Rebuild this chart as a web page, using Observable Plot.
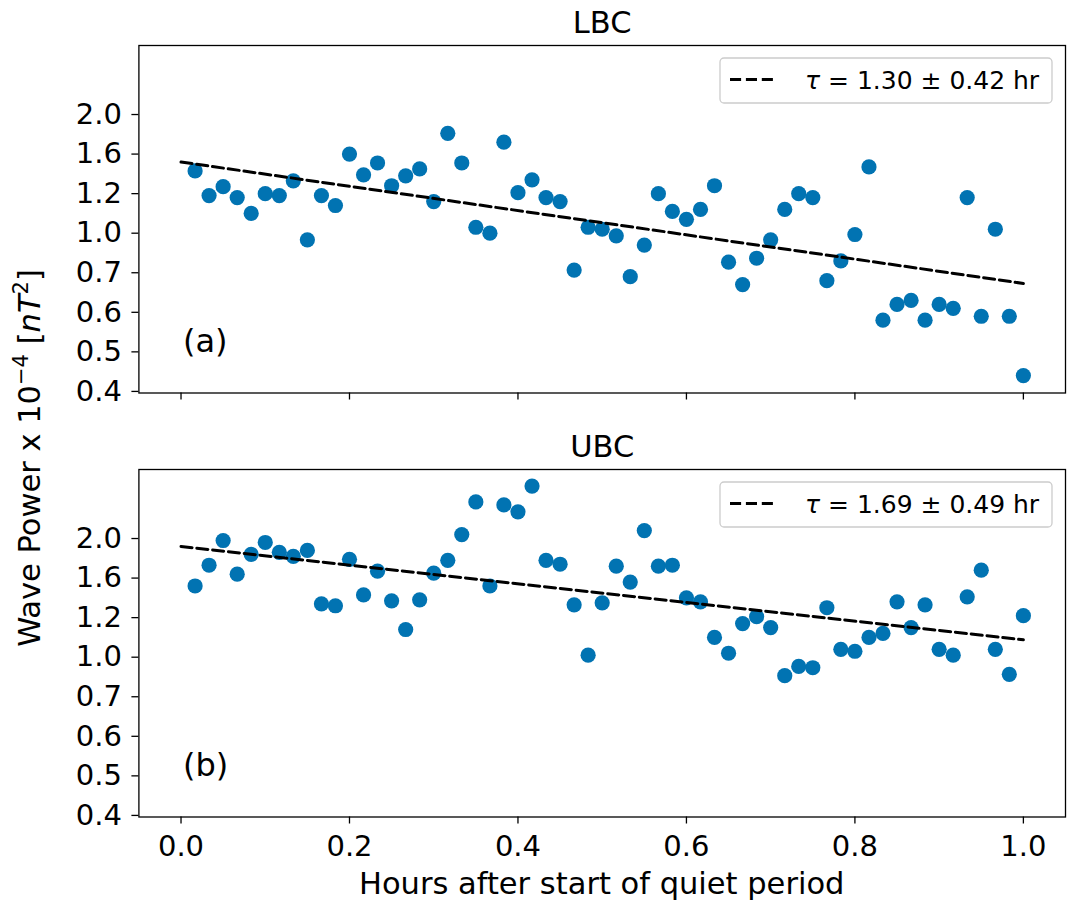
<!DOCTYPE html>
<html>
<head>
<meta charset="utf-8">
<script src="https://cdn.jsdelivr.net/npm/d3@7"></script>
<script src="https://cdn.jsdelivr.net/npm/@observablehq/plot@0.6"></script>
<style>
  body { margin: 0; background: #ffffff; }
  #fig { position: relative; width: 1072px; height: 903px; font-family: "DejaVu Sans"; background: #ffffff; }
</style>
</head>
<body>
<div id="fig"></div>
<script>
// ---------------- data ----------------
const hours = [0.0167, 0.0333, 0.05, 0.0667, 0.0833, 0.1, 0.1167, 0.1333, 0.15, 0.1667,
  0.1833, 0.2, 0.2167, 0.2333, 0.25, 0.2667, 0.2833, 0.3, 0.3167, 0.3333,
  0.35, 0.3667, 0.3833, 0.4, 0.4167, 0.4333, 0.45, 0.4667, 0.4833, 0.5,
  0.5167, 0.5333, 0.55, 0.5667, 0.5833, 0.6, 0.6167, 0.6333, 0.65, 0.6667,
  0.6833, 0.7, 0.7167, 0.7333, 0.75, 0.7667, 0.7833, 0.8, 0.8167, 0.8333,
  0.85, 0.8667, 0.8833, 0.9, 0.9167, 0.9333, 0.95, 0.9667, 0.9833, 1.0];

const lbcPower = [1.43, 1.19, 1.27, 1.18, 1.10, 1.20, 1.19, 1.33, 0.95, 1.19,
  1.14, 1.60, 1.39, 1.51, 1.28, 1.38, 1.45, 1.16, 1.81, 1.51,
  1.03, 1.00, 1.72, 1.21, 1.34, 1.18, 1.16, 0.72, 1.03, 1.02,
  0.98, 0.69, 0.91, 1.20, 1.11, 1.07, 1.12, 1.28, 0.78, 0.67,
  0.81, 0.95, 1.12, 1.20, 1.18, 0.68, 0.79, 0.99, 1.47, 0.58,
  0.62, 0.63, 0.58, 0.62, 0.61, 1.18, 0.59, 1.02, 0.59, 0.44];

const ubcPower = [1.52, 1.73, 1.98, 1.64, 1.84, 1.96, 1.86, 1.82, 1.88, 1.34,
  1.32, 1.79, 1.43, 1.67, 1.37, 1.14, 1.38, 1.65, 1.78, 2.04,
  2.37, 1.52, 2.34, 2.27, 2.53, 1.78, 1.74, 1.33, 1.01, 1.35,
  1.72, 1.56, 2.08, 1.72, 1.73, 1.40, 1.36, 1.10, 1.02, 1.17,
  1.21, 1.15, 0.86, 0.93, 0.92, 1.30, 1.04, 1.03, 1.10, 1.12,
  1.36, 1.15, 1.33, 1.04, 1.01, 1.41, 1.68, 1.04, 0.87, 1.22];

const fitHours = [0, 1];
const lbcFit = [1.52, 0.673];
const ubcFit = [1.92, 1.088];

const panelTitles = ["LBC", "UBC"];
const panelTags = ["(a)", "(b)"];
const tauValues = ["1.30", "1.69"];
const tauErrors = ["0.42", "0.49"];

const yTickValues = [0.4, 0.5, 0.6, 0.7, 1.0, 1.2, 1.6, 2.0];
const yTickLabels = ["0.4", "0.5", "0.6", "0.7", "1.0", "1.2", "1.6", "2.0"];
const xTickValues = [0, 0.2, 0.4, 0.6, 0.8, 1.0];
const xTickLabels = ["0.0", "0.2", "0.4", "0.6", "0.8", "1.0"];

const xLabel = "Hours after start of quiet period";

// ---------------- layout ----------------
const W = 1072;
const ML = 138.4, MR = 7;
const panelLayout = [
  {top: 0,   height: 420, mt: 45, mb: 27.5, showX: false},
  {top: 420, height: 483, mt: 49, mb: 86.5, showX: true}
];
const uMin = -0.04, uMax = 8.745;   // axis limits, in tick-interval units
const dotColor = "#0173b2";
const dash = "11.1,4.8";
const tickFont = 29, labelFont = 30.5;

const fig = document.getElementById("fig");
const powers = [lbcPower, ubcPower];
const fits = [lbcFit, ubcFit];

panelLayout.forEach((L, p) => {
  const fb = L.height - L.mb, ft = L.mt;
  const px = (fb - ft) / (uMax - uMin);
  const yRange = yTickValues.map((_, i) => fb - (i - uMin) * px);
  const pts = hours.map((h, i) => ({h, v: powers[p][i]}));
  const fit = fitHours.map((h, i) => ({h, v: fits[p][i]}));

  const svg = Plot.plot({
    width: W,
    height: L.height,
    marginLeft: ML,
    marginRight: MR,
    marginTop: L.mt,
    marginBottom: L.mb,
    x: {type: "linear", domain: [-0.05, 1.05]},
    y: {type: "linear", domain: yTickValues, range: yRange},
    style: {fontFamily: "DejaVu Sans", fontSize: tickFont + "px", color: "black", background: "transparent", overflow: "visible"},
    marks: [
      Plot.dot(pts, {x: "h", y: "v", r: 7.6, fill: dotColor, stroke: "none"}),
      Plot.line(fit, {x: "h", y: "v", stroke: "black", strokeWidth: 3, strokeDasharray: dash}),
      Plot.axisY({ticks: yTickValues, tickFormat: d => yTickLabels[yTickValues.indexOf(d)],
                  tickSize: 7, tickPadding: 10, label: null, strokeWidth: 1.3, fontSize: tickFont}),
      Plot.axisX({ticks: xTickValues,
                  tickFormat: L.showX ? (d => xTickLabels[xTickValues.indexOf(d)]) : (() => ""),
                  tickSize: 7, tickPadding: 11, label: null, strokeWidth: 1.3, fontSize: tickFont}),
      Plot.frame({stroke: "black", strokeWidth: 1.3}),
      Plot.text([panelTitles[p]], {text: d => d, frameAnchor: "top", lineAnchor: "bottom", dy: -13, fontSize: labelFont}),
      Plot.text([panelTags[p]], {text: d => d, frameAnchor: "bottom-left", textAnchor: "start", lineAnchor: "bottom", dx: 44, dy: -41, fontSize: 32})
    ]
  });
  svg.style.position = "absolute";
  svg.style.left = "0px";
  svg.style.top = L.top + "px";

  // legend
  const s = d3.select(svg);
  const bw = 332, bh = 45;
  const bx = W - MR - 13 - bw, by = ft + 13;
  const g = s.append("g");
  g.append("rect").attr("x", bx).attr("y", by).attr("width", bw).attr("height", bh)
    .attr("rx", 4).attr("fill", "white").attr("fill-opacity", 0.8)
    .attr("stroke", "#cccccc").attr("stroke-width", 1.3);
  g.append("line").attr("x1", bx + 10).attr("x2", bx + 57).attr("y1", by + 21.5).attr("y2", by + 21.5)
    .attr("stroke", "black").attr("stroke-width", 3).attr("stroke-dasharray", dash);
  const t = g.append("text").attr("x", bx + 85).attr("y", by + 30.5)
    .attr("text-anchor", "start")
    .attr("font-size", 25).attr("font-family", "DejaVu Sans").attr("fill", "black");
  t.append("tspan").attr("font-style", "italic").text("τ");
  t.append("tspan").text(` = ${tauValues[p]} ± ${tauErrors[p]} hr`);

  fig.appendChild(svg);
});

// overlay labels
const ov = d3.select(fig).append("svg")
  .attr("width", W).attr("height", 903)
  .style("position", "absolute").style("left", "0px").style("top", "0px")
  .style("pointer-events", "none")
  .attr("font-family", "DejaVu Sans");

ov.append("text")
  .attr("x", (ML + W - MR) / 2).attr("y", 894)
  .attr("text-anchor", "middle").attr("font-size", labelFont).attr("fill", "black")
  .text(xLabel);

const yl = ov.append("text")
  .attr("transform", "translate(40,458) rotate(-90)")
  .attr("text-anchor", "middle").attr("font-size", labelFont).attr("fill", "black");
yl.append("tspan").text("Wave Power x 10");
yl.append("tspan").attr("dy", -12.5).attr("font-size", 21).text("−4");
yl.append("tspan").attr("dy", 12.5).text(" [");
yl.append("tspan").attr("font-style", "italic").text("nT");
yl.append("tspan").attr("dy", -12.5).attr("font-size", 21).text("2");
yl.append("tspan").attr("dy", 12.5).text("]");
</script>
</body>
</html>
